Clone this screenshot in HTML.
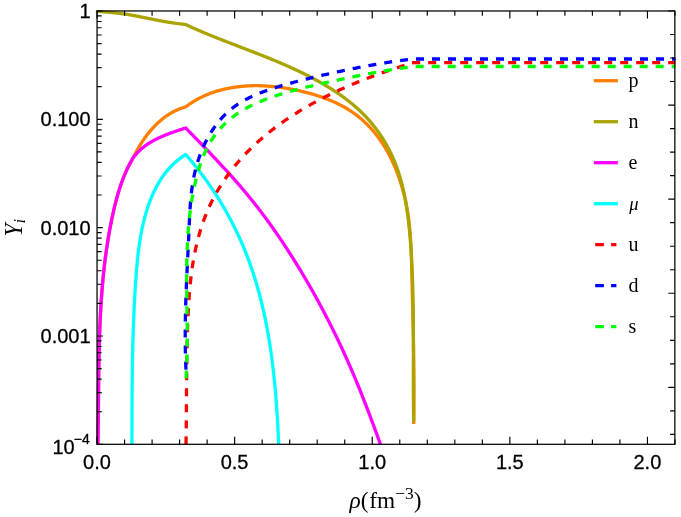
<!DOCTYPE html>
<html><head><meta charset="utf-8"><title>Particle fractions</title>
<style>
html,body{margin:0;padding:0;background:#fff;}
body{width:681px;height:517px;position:relative;overflow:hidden;font-family:"Liberation Sans",sans-serif;}
text{fill:#000;}
</style></head><body>
<svg width="681" height="517" viewBox="0 0 681 517" style="position:absolute;left:0;top:0;will-change:transform">
<defs><clipPath id="c"><rect x="95.55" y="9.97" width="579.9000000000001" height="434.83"/></clipPath></defs>
<g clip-path="url(#c)" fill="none" stroke-linejoin="round">
<path d="M97.90 444.40L97.92 443.41L97.94 442.42L97.96 441.43L97.98 440.44L97.99 439.45L98.01 438.46L98.03 437.47L98.05 436.47L98.06 435.48L98.08 434.49L98.09 433.50L98.11 432.51L98.12 431.51L98.14 430.52L98.15 429.53L98.16 428.53L98.18 427.54L98.19 426.54L98.20 425.55L98.21 424.55L98.23 423.56L98.24 422.56L98.25 421.57L98.26 420.57L98.27 419.58L98.28 418.58L98.29 417.59L98.30 416.59L98.31 415.59L98.32 414.60L98.33 413.60L98.34 412.60L98.35 411.60L98.36 410.61L98.37 409.61L98.38 408.61L98.39 407.61L98.40 406.61L98.41 405.61L98.42 404.61L98.42 403.62L98.43 402.62L98.44 401.62L98.45 400.62L98.46 399.62L98.47 398.62L98.48 397.62L98.49 396.62L98.49 395.62L98.50 394.62L98.51 393.62L98.52 392.62L98.53 391.61L98.54 390.61L98.55 389.61L98.56 388.61L98.57 387.61L98.58 386.61L98.59 385.61L98.60 384.61L98.61 383.60L98.62 382.60L98.63 381.60L98.64 380.60L98.65 379.59L98.66 378.59L98.67 377.59L98.69 376.59L98.70 375.58L98.71 374.58L98.72 373.58L98.74 372.58L98.75 371.57L98.76 370.57L98.78 369.57L98.79 368.56L98.81 367.56L98.82 366.56L98.84 365.55L98.85 364.55L98.87 363.55L98.89 362.54L98.90 361.54L98.92 360.54L98.94 359.53L98.96 358.53L98.98 357.53L99.00 356.52L99.02 355.52L99.04 354.51L99.06 353.51L99.08 352.51L99.10 351.50L99.13 350.50L99.15 349.50L99.17 348.49L99.20 347.49L99.22 346.48L99.25 345.48L99.28 344.48L99.30 343.47L99.33 342.47L99.36 341.46L99.39 340.46L99.42 339.46L99.45 338.45L99.48 337.45L99.52 336.45L99.55 335.44L99.58 334.44L99.62 333.44L99.65 332.43L99.69 331.43L99.73 330.43L99.76 329.42L99.80 328.42L99.84 327.42L99.88 326.41L99.92 325.41L99.96 324.41L100.01 323.40L100.05 322.40L100.10 321.40L100.14 320.40L100.19 319.39L100.24 318.39L100.28 317.39L100.33 316.39L100.38 315.39L100.44 314.38L100.49 313.38L100.54 312.38L100.60 311.38L100.65 310.38L100.71 309.37L100.77 308.37L100.83 307.37L100.89 306.37L100.95 305.37L101.01 304.37L101.07 303.37L101.14 302.37L101.20 301.37L101.27 300.37L101.34 299.37L101.41 298.37L101.48 297.37L101.55 296.37L101.62 295.37L101.69 294.37L101.77 293.37L101.85 292.37L101.92 291.37L102.00 290.37L102.08 289.38L102.16 288.38L102.25 287.38L102.33 286.38L102.42 285.38L102.50 284.39L102.59 283.39L102.68 282.39L102.77 281.40L102.86 280.40L102.96 279.40L103.05 278.41L103.15 277.41L103.25 276.42L103.35 275.42L103.45 274.43L103.55 273.43L103.66 272.44L103.76 271.44L103.87 270.45L103.98 269.45L104.09 268.46L104.20 267.47L104.31 266.47L104.43 265.48L104.54 264.49L104.66 263.49L104.78 262.50L104.90 261.51L105.02 260.52L105.15 259.53L105.28 258.54L105.40 257.54L105.53 256.55L105.66 255.56L105.80 254.57L105.93 253.58L106.07 252.59L106.21 251.61L106.35 250.62L106.49 249.63L106.63 248.64L106.78 247.65L106.92 246.67L107.07 245.68L107.22 244.69L107.37 243.70L107.53 242.72L107.68 241.73L107.84 240.75L108.00 239.76L108.16 238.78L108.33 237.79L108.49 236.81L108.66 235.82L108.83 234.84L109.00 233.86L109.17 232.88L109.35 231.89L109.53 230.91L109.71 229.93L109.89 228.95L110.07 227.97L110.26 226.99L110.44 226.01L110.63 225.03L110.82 224.05L111.02 223.07L111.21 222.09L111.41 221.11L111.61 220.13L111.81 219.16L112.02 218.18L112.22 217.20L112.43 216.23L112.64 215.25L112.86 214.28L113.07 213.30L113.29 212.33L113.51 211.35L113.73 210.38L113.95 209.41L114.18 208.43L114.41 207.46L114.64 206.49L114.88 205.52L115.11 204.55L115.35 203.58L115.60 202.61L115.85 201.65L116.10 200.68L116.35 199.72L116.61 198.75L116.87 197.79L117.13 196.83L117.40 195.87L117.67 194.91L117.95 193.95L118.23 192.99L118.51 192.04L118.80 191.08L119.10 190.13L119.40 189.18L119.70 188.23L120.01 187.28L120.32 186.33L120.64 185.39L120.96 184.45L121.29 183.51L121.62 182.57L121.96 181.63L122.30 180.70L122.65 179.76L123.01 178.83L123.37 177.90L123.74 176.98L124.11 176.05L124.49 175.13L124.87 174.21L125.27 173.29L125.66 172.38L126.07 171.46L126.48 170.55L126.90 169.65L127.32 168.74L127.76 167.84L128.20 166.94L128.64 166.04L129.10 165.15L129.56 164.26L130.03 163.37L130.50 162.48L130.99 161.60L131.48 160.72L131.98 159.84L132.48 158.97L133.00 158.10L133.43 157.21L133.87 156.32L134.32 155.43L134.78 154.53L135.24 153.65L135.70 152.76L136.18 151.87L136.66 150.99L137.15 150.10L137.64 149.22L138.14 148.35L138.65 147.47L139.17 146.60L139.69 145.73L140.22 144.86L140.76 144.00L141.30 143.14L141.85 142.28L142.41 141.43L142.98 140.59L143.55 139.74L144.13 138.91L144.71 138.07L145.31 137.25L145.91 136.42L146.52 135.61L147.13 134.80L147.75 133.99L148.38 133.19L149.02 132.40L149.67 131.61L150.32 130.84L150.98 130.06L151.64 129.30L152.32 128.54L153.00 127.79L153.69 127.05L154.39 126.32L155.09 125.60L155.80 124.88L156.52 124.17L157.25 123.47L157.99 122.79L158.73 122.11L159.48 121.44L160.24 120.78L161.00 120.13L161.78 119.49L162.56 118.86L163.35 118.24L164.15 117.63L164.95 117.04L165.77 116.45L166.59 115.88L167.42 115.32L168.25 114.77L169.10 114.23L169.95 113.71L170.81 113.19L171.68 112.69L172.56 112.21L173.44 111.74L174.34 111.28L175.24 110.83L176.15 110.40L177.07 109.98L177.99 109.58L178.93 109.19L179.87 108.82L180.82 108.46L181.78 108.12L182.75 107.79L183.72 107.48L184.71 107.18L185.70 106.90L186.50 106.28L187.32 105.68L188.13 105.08L188.96 104.50L189.79 103.92L190.62 103.36L191.46 102.80L192.31 102.26L193.16 101.73L194.01 101.20L194.88 100.69L195.74 100.18L196.61 99.69L197.49 99.21L198.37 98.73L199.26 98.27L200.15 97.81L201.05 97.37L201.94 96.93L202.85 96.50L203.76 96.08L204.67 95.68L205.58 95.28L206.50 94.89L207.43 94.51L208.35 94.13L209.28 93.77L210.22 93.42L211.15 93.07L212.09 92.74L213.04 92.41L213.98 92.09L214.93 91.78L215.88 91.48L216.83 91.18L217.79 90.90L218.75 90.62L219.71 90.36L220.67 90.10L221.64 89.84L222.60 89.60L223.57 89.36L224.54 89.14L225.51 88.92L226.49 88.71L227.46 88.50L228.44 88.30L229.41 88.12L230.39 87.93L231.37 87.76L232.35 87.60L233.33 87.44L234.31 87.29L235.29 87.14L236.28 87.00L237.26 86.88L238.24 86.75L239.22 86.64L240.21 86.53L241.19 86.43L242.17 86.33L243.16 86.25L244.14 86.16L245.13 86.09L246.11 86.02L247.10 85.96L248.08 85.91L249.07 85.86L250.05 85.82L251.04 85.79L252.03 85.76L253.01 85.74L254.00 85.72L254.99 85.71L255.98 85.71L256.97 85.71L257.95 85.72L258.94 85.73L259.93 85.76L260.92 85.78L261.91 85.82L262.90 85.85L263.89 85.90L264.89 85.95L265.88 86.00L266.87 86.07L267.86 86.13L268.85 86.21L269.85 86.28L270.84 86.37L271.83 86.46L272.83 86.55L273.82 86.65L274.81 86.75L275.81 86.86L276.80 86.98L277.80 87.10L278.79 87.22L279.79 87.35L280.79 87.49L281.78 87.62L282.78 87.77L283.78 87.92L284.77 88.07L285.77 88.23L286.77 88.39L287.77 88.56L288.77 88.73L289.77 88.91L290.77 89.09L291.77 89.27L292.77 89.46L293.77 89.65L294.77 89.85L295.77 90.05L296.77 90.26L297.77 90.47L298.77 90.68L299.77 90.90L300.77 91.13L301.76 91.36L302.76 91.59L303.76 91.83L304.75 92.07L305.75 92.32L306.74 92.58L307.74 92.83L308.73 93.10L309.72 93.37L310.71 93.64L311.69 93.92L312.68 94.20L313.66 94.49L314.65 94.78L315.63 95.08L316.60 95.39L317.58 95.70L318.55 96.01L319.52 96.33L320.49 96.66L321.46 96.99L322.42 97.33L323.38 97.68L324.34 98.02L325.29 98.38L326.25 98.74L327.19 99.11L328.14 99.48L329.08 99.86L330.02 100.24L330.96 100.63L331.89 101.03L332.81 101.43L333.74 101.84L334.66 102.26L335.57 102.68L336.48 103.11L337.39 103.54L338.29 103.98L339.19 104.43L340.09 104.89L340.98 105.35L341.86 105.81L342.74 106.29L343.61 106.77L344.48 107.25L345.35 107.75L346.21 108.25L347.06 108.76L347.91 109.27L348.75 109.79L349.59 110.32L350.42 110.86L351.25 111.40L352.07 111.95L352.88 112.51L353.69 113.07L354.49 113.64L355.28 114.22L356.07 114.81L356.85 115.40L357.63 116.01L358.40 116.61L359.16 117.23L359.92 117.85L360.67 118.48L361.41 119.12L362.15 119.76L362.88 120.41L363.61 121.07L364.33 121.73L365.04 122.40L365.74 123.08L366.44 123.76L367.14 124.45L367.83 125.14L368.51 125.84L369.18 126.55L369.85 127.27L370.52 127.99L371.17 128.71L371.83 129.44L372.47 130.18L373.11 130.93L373.74 131.67L374.37 132.43L374.99 133.19L375.61 133.96L376.22 134.73L376.82 135.50L377.42 136.29L378.01 137.07L378.59 137.87L379.17 138.66L379.75 139.47L380.32 140.27L380.88 141.09L381.43 141.90L381.98 142.72L382.53 143.55L383.07 144.38L383.60 145.22L384.13 146.06L384.65 146.90L385.17 147.75L385.68 148.61L386.18 149.47L386.68 150.33L387.17 151.19L387.66 152.06L388.14 152.94L388.62 153.82L389.09 154.70L389.55 155.58L390.01 156.47L390.47 157.37L390.91 158.26L391.36 159.16L391.79 160.07L392.23 160.98L392.65 161.89L393.07 162.80L393.49 163.72L393.90 164.64L394.30 165.56L394.70 166.49L395.10 167.41L395.48 168.35L395.87 169.28L396.24 170.22L396.62 171.16L396.98 172.10L397.35 173.05L397.70 173.99L398.05 174.94L398.40 175.90L398.74 176.85L399.07 177.81L399.40 178.77L399.73 179.73L400.05 180.69L400.36 181.66L400.67 182.62L400.98 183.59L401.28 184.56L401.57 185.53L401.86 186.51L402.14 187.48L402.42 188.46L402.70 189.44L402.97 190.42L403.23 191.40L403.49 192.38L403.74 193.36L403.99 194.34L404.24 195.33L404.47 196.31L404.71 197.30L404.94 198.29L405.16 199.28L405.38 200.27L405.60 201.26L405.81 202.25L406.01 203.24L406.21 204.23L406.41 205.22L406.60 206.21L406.78 207.20L406.96 208.19L407.14 209.19L407.31 210.18L407.48 211.17L407.64 212.16L407.80 213.15L407.95 214.15L408.10 215.14L408.24 216.13L408.39 217.12L408.52 218.12L408.65 219.11L408.78 220.10L408.91 221.09L409.03 222.09L409.15 223.08L409.26 224.07L409.37 225.06L409.48 226.06L409.58 227.05L409.68 228.04L409.77 229.04L409.87 230.03L409.96 231.02L410.04 232.02L410.13 233.01L410.21 234.00L410.28 235.00L410.36 235.99L410.43 236.98L410.50 237.98L410.57 238.97L410.63 239.97L410.69 240.96L410.75 241.95L410.81 242.95L410.87 243.94L410.92 244.94L410.97 245.93L411.02 246.93L411.07 247.92L411.11 248.92L411.15 249.91L411.20 250.91L411.24 251.90L411.27 252.90L411.31 253.89L411.35 254.89L411.38 255.88L411.41 256.88L411.45 257.87L411.48 258.87L411.51 259.87L411.53 260.86L411.56 261.86L411.59 262.86L411.61 263.85L411.64 264.85L411.66 265.84L411.69 266.84L411.71 267.84L411.73 268.84L411.76 269.83L411.78 270.83L411.80 271.83L411.82 272.83L411.85 273.82L411.87 274.82L411.89 275.82L411.91 276.82L411.94 277.82L411.96 278.81L411.98 279.81L412.00 280.81L412.03 281.81L412.05 282.81L412.07 283.81L412.10 284.81L412.12 285.81L412.15 286.81L412.17 287.81L412.19 288.80L412.22 289.80L412.24 290.80L412.27 291.80L412.29 292.80L412.32 293.80L412.34 294.81L412.37 295.81L412.39 296.81L412.42 297.81L412.44 298.81L412.46 299.81L412.49 300.81L412.51 301.81L412.54 302.81L412.56 303.81L412.59 304.81L412.61 305.81L412.64 306.82L412.66 307.82L412.69 308.82L412.71 309.82L412.74 310.82L412.76 311.82L412.79 312.83L412.81 313.83L412.84 314.83L412.86 315.83L412.89 316.83L412.91 317.84L412.94 318.84L412.96 319.84L412.98 320.84L413.01 321.85L413.03 322.85L413.06 323.85L413.08 324.85L413.10 325.86L413.13 326.86L413.15 327.86L413.17 328.86L413.19 329.87L413.22 330.87L413.24 331.87L413.26 332.87L413.28 333.88L413.31 334.88L413.33 335.88L413.35 336.89L413.37 337.89L413.39 338.89L413.41 339.89L413.43 340.90L413.45 341.90L413.47 342.90L413.49 343.91L413.51 344.91L413.53 345.91L413.55 346.92L413.57 347.92L413.59 348.92L413.61 349.92L413.63 350.93L413.64 351.93L413.66 352.93L413.68 353.94L413.70 354.94L413.71 355.94L413.73 356.94L413.74 357.95L413.76 358.95L413.77 359.95L413.79 360.96L413.80 361.96L413.82 362.96L413.83 363.96L413.84 364.97L413.86 365.97L413.87 366.97L413.88 367.98L413.89 368.98L413.90 369.98L413.91 370.98L413.93 371.99L413.93 372.99L413.94 373.99L413.95 374.99L413.96 375.99L413.97 377.00L413.98 378.00L413.98 379.00L413.99 380.00L414.00 381.00L414.00 382.01L414.01 383.01L414.01 384.01L414.02 385.01L414.02 386.01L414.02 387.01L414.03 388.02L414.03 389.02L414.03 390.02L414.03 391.02L414.03 392.02L414.03 393.02L414.03 394.02L414.03 395.02L414.02 396.02L414.02 397.03L414.02 398.03L414.01 399.03L414.01 400.03L414.00 401.03L414.00 402.03L413.99 403.03L413.99 404.03L413.98 405.03L413.97 406.03L413.96 407.03L413.95 408.03L413.94 409.02L413.93 410.02L413.92 411.02L413.91 412.02L413.89 413.02L413.88 414.02L413.86 415.02L413.85 416.02L413.83 417.02L413.82 418.01L413.80 419.01L413.78 420.01L413.76 421.01L413.74 422.01L413.72 423.00L413.70 424.00" stroke="#ff8000" stroke-width="3.3"/>
<path d="M95.70 11.25L96.70 11.33L97.70 11.41L98.69 11.49L99.69 11.57L100.69 11.65L101.69 11.73L102.69 11.81L103.68 11.89L104.68 11.97L105.68 12.05L106.68 12.13L107.68 12.22L108.68 12.30L109.67 12.39L110.67 12.48L111.67 12.57L112.67 12.66L113.66 12.76L114.66 12.86L115.65 12.96L116.65 13.06L117.64 13.17L118.64 13.28L119.63 13.40L120.62 13.52L121.62 13.64L122.61 13.77L123.60 13.91L124.59 14.05L125.58 14.19L126.57 14.34L127.55 14.49L128.54 14.65L129.53 14.81L130.51 14.98L131.50 15.15L132.48 15.33L133.46 15.50L134.45 15.68L135.43 15.87L136.41 16.05L137.40 16.24L138.38 16.43L139.36 16.62L140.34 16.81L141.32 17.01L142.30 17.20L143.29 17.40L144.27 17.60L145.25 17.80L146.23 18.00L147.21 18.19L148.19 18.39L149.17 18.59L150.15 18.79L151.13 18.99L152.11 19.18L153.10 19.38L154.08 19.58L155.06 19.77L156.04 19.96L157.02 20.16L158.01 20.35L158.99 20.53L159.97 20.72L160.95 20.90L161.94 21.09L162.92 21.27L163.91 21.44L164.89 21.62L165.88 21.79L166.87 21.95L167.85 22.12L168.84 22.28L169.83 22.43L170.82 22.59L171.81 22.74L172.80 22.89L173.79 23.03L174.78 23.17L175.77 23.31L176.76 23.45L177.75 23.58L178.75 23.72L179.74 23.85L180.73 23.98L181.73 24.11L182.72 24.23L183.71 24.36L184.71 24.48L185.70 24.60L186.61 25.02L187.51 25.44L188.42 25.85L189.33 26.27L190.24 26.68L191.15 27.09L192.07 27.50L192.98 27.90L193.89 28.31L194.81 28.71L195.72 29.11L196.64 29.51L197.55 29.91L198.47 30.30L199.39 30.70L200.31 31.09L201.23 31.48L202.15 31.87L203.07 32.26L203.99 32.65L204.91 33.03L205.83 33.41L206.76 33.80L207.68 34.18L208.60 34.56L209.53 34.94L210.46 35.31L211.38 35.69L212.31 36.06L213.23 36.44L214.16 36.81L215.09 37.18L216.02 37.55L216.95 37.92L217.88 38.29L218.80 38.66L219.73 39.03L220.66 39.40L221.60 39.76L222.53 40.13L223.46 40.49L224.39 40.86L225.32 41.22L226.25 41.58L227.18 41.94L228.12 42.30L229.05 42.67L229.98 43.03L230.92 43.39L231.85 43.75L232.78 44.11L233.72 44.47L234.65 44.83L235.58 45.18L236.52 45.54L237.45 45.90L238.39 46.26L239.32 46.62L240.26 46.98L241.19 47.34L242.12 47.69L243.06 48.05L243.99 48.41L244.93 48.77L245.86 49.13L246.80 49.49L247.73 49.85L248.66 50.21L249.60 50.57L250.53 50.93L251.46 51.29L252.40 51.65L253.33 52.01L254.26 52.38L255.20 52.74L256.13 53.10L257.06 53.47L258.00 53.83L258.93 54.20L259.86 54.56L260.79 54.93L261.72 55.30L262.65 55.67L263.58 56.04L264.51 56.41L265.44 56.78L266.37 57.15L267.30 57.52L268.23 57.90L269.16 58.27L270.09 58.65L271.01 59.03L271.94 59.41L272.87 59.79L273.79 60.17L274.72 60.55L275.64 60.94L276.57 61.32L277.49 61.71L278.41 62.10L279.34 62.49L280.26 62.88L281.18 63.27L282.10 63.67L283.02 64.06L283.94 64.46L284.86 64.86L285.78 65.26L286.69 65.67L287.61 66.07L288.53 66.48L289.44 66.89L290.36 67.30L291.27 67.71L292.18 68.13L293.10 68.54L294.01 68.96L294.92 69.38L295.83 69.81L296.73 70.23L297.64 70.66L298.55 71.09L299.46 71.52L300.36 71.96L301.26 72.39L302.17 72.83L303.07 73.28L303.97 73.72L304.87 74.17L305.77 74.62L306.67 75.07L307.56 75.52L308.46 75.98L309.35 76.44L310.25 76.90L311.14 77.37L312.03 77.84L312.92 78.31L313.81 78.78L314.70 79.26L315.59 79.74L316.47 80.22L317.36 80.71L318.24 81.20L319.12 81.69L320.00 82.18L320.88 82.68L321.75 83.18L322.63 83.69L323.50 84.19L324.37 84.70L325.24 85.22L326.11 85.74L326.98 86.26L327.84 86.78L328.70 87.31L329.56 87.84L330.42 88.37L331.27 88.91L332.12 89.45L332.97 90.00L333.82 90.55L334.66 91.10L335.50 91.65L336.34 92.21L337.18 92.78L338.01 93.34L338.84 93.91L339.67 94.49L340.49 95.07L341.31 95.65L342.13 96.23L342.95 96.82L343.76 97.42L344.57 98.01L345.37 98.62L346.17 99.22L346.97 99.83L347.76 100.44L348.55 101.06L349.34 101.68L350.12 102.31L350.90 102.94L351.67 103.57L352.45 104.21L353.21 104.85L353.98 105.50L354.73 106.15L355.49 106.81L356.24 107.47L356.98 108.13L357.72 108.80L358.46 109.47L359.19 110.15L359.92 110.83L360.64 111.52L361.36 112.21L362.07 112.91L362.78 113.61L363.48 114.31L364.18 115.02L364.88 115.74L365.56 116.46L366.25 117.18L366.92 117.91L367.60 118.65L368.26 119.38L368.92 120.13L369.58 120.88L370.23 121.63L370.88 122.38L371.52 123.15L372.15 123.91L372.78 124.68L373.40 125.46L374.02 126.24L374.63 127.02L375.24 127.81L375.84 128.60L376.44 129.39L377.03 130.19L377.62 131.00L378.19 131.80L378.77 132.62L379.34 133.43L379.90 134.25L380.46 135.07L381.01 135.90L381.55 136.73L382.09 137.57L382.63 138.40L383.15 139.25L383.68 140.09L384.19 140.94L384.70 141.79L385.21 142.65L385.71 143.51L386.20 144.37L386.69 145.23L387.17 146.10L387.64 146.97L388.11 147.85L388.58 148.73L389.04 149.61L389.49 150.49L389.93 151.38L390.37 152.27L390.81 153.16L391.23 154.05L391.65 154.95L392.07 155.85L392.48 156.76L392.88 157.66L393.28 158.57L393.67 159.48L394.05 160.40L394.43 161.31L394.80 162.23L395.17 163.15L395.53 164.07L395.89 165.00L396.24 165.93L396.58 166.86L396.92 167.79L397.25 168.72L397.58 169.66L397.90 170.60L398.21 171.54L398.53 172.48L398.83 173.43L399.13 174.38L399.43 175.33L399.72 176.28L400.00 177.23L400.28 178.18L400.56 179.14L400.83 180.10L401.09 181.06L401.35 182.02L401.61 182.98L401.86 183.95L402.11 184.92L402.35 185.89L402.59 186.86L402.82 187.83L403.05 188.80L403.27 189.78L403.49 190.75L403.71 191.73L403.92 192.71L404.13 193.69L404.33 194.67L404.53 195.65L404.73 196.64L404.92 197.62L405.11 198.61L405.30 199.60L405.48 200.58L405.65 201.57L405.83 202.57L406.00 203.56L406.16 204.55L406.33 205.54L406.49 206.54L406.64 207.54L406.80 208.53L406.95 209.53L407.10 210.53L407.24 211.53L407.38 212.53L407.52 213.53L407.65 214.53L407.79 215.53L407.92 216.53L408.04 217.53L408.17 218.54L408.29 219.54L408.41 220.55L408.52 221.55L408.64 222.56L408.75 223.56L408.86 224.57L408.97 225.57L409.07 226.58L409.17 227.59L409.27 228.59L409.37 229.60L409.47 230.61L409.56 231.61L409.66 232.62L409.75 233.63L409.84 234.64L409.92 235.64L410.01 236.65L410.09 237.66L410.18 238.67L410.26 239.67L410.34 240.68L410.41 241.69L410.49 242.69L410.57 243.70L410.64 244.70L410.71 245.71L410.79 246.71L410.86 247.72L410.93 248.72L410.99 249.73L411.06 250.73L411.13 251.74L411.19 252.74L411.25 253.74L411.32 254.75L411.38 255.75L411.44 256.75L411.49 257.76L411.55 258.76L411.61 259.76L411.66 260.76L411.72 261.76L411.77 262.77L411.82 263.77L411.87 264.77L411.92 265.77L411.97 266.77L412.02 267.77L412.06 268.77L412.11 269.77L412.15 270.77L412.20 271.77L412.24 272.77L412.28 273.77L412.32 274.77L412.36 275.77L412.40 276.77L412.44 277.77L412.47 278.77L412.51 279.77L412.54 280.77L412.58 281.77L412.61 282.77L412.64 283.76L412.67 284.76L412.71 285.76L412.74 286.76L412.76 287.76L412.79 288.75L412.82 289.75L412.85 290.75L412.87 291.75L412.90 292.74L412.92 293.74L412.94 294.74L412.97 295.74L412.99 296.73L413.01 297.73L413.03 298.73L413.05 299.72L413.07 300.72L413.09 301.72L413.11 302.71L413.12 303.71L413.14 304.71L413.15 305.70L413.17 306.70L413.18 307.69L413.20 308.69L413.21 309.69L413.23 310.68L413.24 311.68L413.25 312.68L413.26 313.67L413.27 314.67L413.28 315.66L413.29 316.66L413.30 317.66L413.31 318.65L413.32 319.65L413.33 320.64L413.33 321.64L413.34 322.63L413.35 323.63L413.35 324.63L413.36 325.62L413.36 326.62L413.37 327.61L413.37 328.61L413.38 329.60L413.38 330.60L413.38 331.60L413.39 332.59L413.39 333.59L413.39 334.58L413.40 335.58L413.40 336.58L413.40 337.57L413.40 338.57L413.40 339.56L413.40 340.56L413.40 341.56L413.40 342.55L413.40 343.55L413.40 344.55L413.40 345.54L413.40 346.54L413.40 347.54L413.40 348.53L413.40 349.53L413.40 350.53L413.40 351.52L413.40 352.52L413.40 353.52L413.40 354.51L413.40 355.51L413.39 356.51L413.39 357.51L413.39 358.50L413.39 359.50L413.39 360.50L413.39 361.50L413.38 362.50L413.38 363.49L413.38 364.49L413.38 365.49L413.38 366.49L413.38 367.49L413.38 368.49L413.38 369.49L413.37 370.49L413.37 371.48L413.37 372.48L413.37 373.48L413.37 374.48L413.37 375.48L413.37 376.48L413.37 377.48L413.37 378.48L413.37 379.48L413.37 380.48L413.37 381.49L413.37 382.49L413.37 383.49L413.37 384.49L413.38 385.49L413.38 386.49L413.38 387.49L413.38 388.50L413.39 389.50L413.39 390.50L413.39 391.50L413.40 392.51L413.40 393.51L413.40 394.51L413.41 395.52L413.41 396.52L413.42 397.53L413.43 398.53L413.43 399.53L413.44 400.54L413.45 401.54L413.45 402.55L413.46 403.56L413.47 404.56L413.48 405.57L413.49 406.57L413.50 407.58L413.51 408.59L413.52 409.59L413.53 410.60L413.55 411.61L413.56 412.62L413.57 413.62L413.59 414.63L413.60 415.64L413.62 416.65L413.63 417.66L413.65 418.67L413.66 419.68L413.68 420.69L413.70 421.70" stroke="#a9a400" stroke-width="3.3"/>
<path d="M97.90 444.40L97.92 443.41L97.94 442.42L97.96 441.43L97.98 440.44L97.99 439.45L98.01 438.46L98.03 437.47L98.05 436.47L98.06 435.48L98.08 434.49L98.09 433.50L98.11 432.51L98.12 431.51L98.14 430.52L98.15 429.53L98.16 428.53L98.18 427.54L98.19 426.54L98.20 425.55L98.21 424.55L98.23 423.56L98.24 422.56L98.25 421.57L98.26 420.57L98.27 419.58L98.28 418.58L98.29 417.59L98.30 416.59L98.31 415.59L98.32 414.60L98.33 413.60L98.34 412.60L98.35 411.60L98.36 410.61L98.37 409.61L98.38 408.61L98.39 407.61L98.40 406.61L98.41 405.61L98.42 404.61L98.42 403.62L98.43 402.62L98.44 401.62L98.45 400.62L98.46 399.62L98.47 398.62L98.48 397.62L98.49 396.62L98.49 395.62L98.50 394.62L98.51 393.62L98.52 392.62L98.53 391.61L98.54 390.61L98.55 389.61L98.56 388.61L98.57 387.61L98.58 386.61L98.59 385.61L98.60 384.61L98.61 383.60L98.62 382.60L98.63 381.60L98.64 380.60L98.65 379.59L98.66 378.59L98.67 377.59L98.69 376.59L98.70 375.58L98.71 374.58L98.72 373.58L98.74 372.58L98.75 371.57L98.76 370.57L98.78 369.57L98.79 368.56L98.81 367.56L98.82 366.56L98.84 365.55L98.85 364.55L98.87 363.55L98.89 362.54L98.90 361.54L98.92 360.54L98.94 359.53L98.96 358.53L98.98 357.53L99.00 356.52L99.02 355.52L99.04 354.51L99.06 353.51L99.08 352.51L99.10 351.50L99.13 350.50L99.15 349.50L99.17 348.49L99.20 347.49L99.22 346.48L99.25 345.48L99.28 344.48L99.30 343.47L99.33 342.47L99.36 341.46L99.39 340.46L99.42 339.46L99.45 338.45L99.48 337.45L99.52 336.45L99.55 335.44L99.58 334.44L99.62 333.44L99.65 332.43L99.69 331.43L99.73 330.43L99.76 329.42L99.80 328.42L99.84 327.42L99.88 326.41L99.92 325.41L99.96 324.41L100.01 323.40L100.05 322.40L100.10 321.40L100.14 320.40L100.19 319.39L100.24 318.39L100.28 317.39L100.33 316.39L100.38 315.39L100.44 314.38L100.49 313.38L100.54 312.38L100.60 311.38L100.65 310.38L100.71 309.37L100.77 308.37L100.83 307.37L100.89 306.37L100.95 305.37L101.01 304.37L101.07 303.37L101.14 302.37L101.20 301.37L101.27 300.37L101.34 299.37L101.41 298.37L101.48 297.37L101.55 296.37L101.62 295.37L101.69 294.37L101.77 293.37L101.85 292.37L101.92 291.37L102.00 290.37L102.08 289.38L102.16 288.38L102.25 287.38L102.33 286.38L102.42 285.38L102.50 284.39L102.59 283.39L102.68 282.39L102.77 281.40L102.86 280.40L102.96 279.40L103.05 278.41L103.15 277.41L103.25 276.42L103.35 275.42L103.45 274.43L103.55 273.43L103.66 272.44L103.76 271.44L103.87 270.45L103.98 269.45L104.09 268.46L104.20 267.47L104.31 266.47L104.43 265.48L104.54 264.49L104.66 263.49L104.78 262.50L104.90 261.51L105.02 260.52L105.15 259.53L105.28 258.54L105.40 257.54L105.53 256.55L105.66 255.56L105.80 254.57L105.93 253.58L106.07 252.59L106.21 251.61L106.35 250.62L106.49 249.63L106.63 248.64L106.78 247.65L106.92 246.67L107.07 245.68L107.22 244.69L107.37 243.70L107.53 242.72L107.68 241.73L107.84 240.75L108.00 239.76L108.16 238.78L108.33 237.79L108.49 236.81L108.66 235.82L108.83 234.84L109.00 233.86L109.17 232.88L109.35 231.89L109.53 230.91L109.71 229.93L109.89 228.95L110.07 227.97L110.26 226.99L110.44 226.01L110.63 225.03L110.82 224.05L111.02 223.07L111.21 222.09L111.41 221.11L111.61 220.13L111.81 219.16L112.02 218.18L112.22 217.20L112.43 216.23L112.64 215.25L112.86 214.28L113.07 213.30L113.29 212.33L113.51 211.35L113.73 210.38L113.95 209.41L114.18 208.43L114.41 207.46L114.64 206.49L114.88 205.52L115.11 204.55L115.35 203.58L115.60 202.61L115.85 201.65L116.10 200.68L116.35 199.72L116.61 198.75L116.87 197.79L117.13 196.83L117.40 195.87L117.67 194.91L117.95 193.95L118.23 192.99L118.51 192.04L118.80 191.08L119.10 190.13L119.40 189.18L119.70 188.23L120.01 187.28L120.32 186.33L120.64 185.39L120.96 184.45L121.29 183.51L121.62 182.57L121.96 181.63L122.30 180.70L122.65 179.76L123.01 178.83L123.37 177.90L123.74 176.98L124.11 176.05L124.49 175.13L124.87 174.21L125.27 173.29L125.66 172.38L126.07 171.46L126.48 170.55L126.90 169.65L127.32 168.74L127.76 167.84L128.20 166.94L128.64 166.04L129.10 165.15L129.56 164.26L130.03 163.37L130.50 162.48L130.99 161.60L131.48 160.72L131.98 159.84L132.48 158.97L133.00 158.10L133.60 157.26L134.22 156.44L134.85 155.64L135.49 154.85L136.15 154.08L136.82 153.32L137.51 152.58L138.21 151.86L138.92 151.14L139.64 150.45L140.38 149.77L141.13 149.10L141.89 148.44L142.66 147.80L143.44 147.17L144.23 146.56L145.03 145.95L145.85 145.36L146.67 144.79L147.50 144.22L148.34 143.66L149.19 143.12L150.04 142.59L150.91 142.07L151.78 141.56L152.66 141.06L153.55 140.57L154.44 140.08L155.34 139.61L156.25 139.15L157.16 138.70L158.08 138.25L159.00 137.82L159.93 137.39L160.87 136.97L161.80 136.56L162.74 136.16L163.69 135.76L164.64 135.37L165.59 134.98L166.54 134.61L167.50 134.24L168.45 133.87L169.41 133.51L170.38 133.16L171.34 132.81L172.30 132.46L173.27 132.12L174.23 131.79L175.19 131.46L176.16 131.13L177.12 130.80L178.08 130.48L179.04 130.17L180.00 129.85L180.96 129.54L181.91 129.23L182.86 128.92L183.81 128.61L184.76 128.30L185.70 128.00L186.40 128.72L187.10 129.43L187.80 130.15L188.50 130.86L189.20 131.58L189.90 132.29L190.60 133.01L191.30 133.73L191.99 134.44L192.69 135.16L193.39 135.88L194.09 136.59L194.79 137.31L195.49 138.03L196.19 138.74L196.89 139.46L197.58 140.18L198.28 140.90L198.98 141.62L199.67 142.34L200.37 143.05L201.07 143.77L201.76 144.49L202.46 145.21L203.16 145.93L203.85 146.65L204.55 147.38L205.24 148.10L205.93 148.82L206.63 149.54L207.32 150.26L208.01 150.99L208.70 151.71L209.40 152.43L210.09 153.16L210.78 153.88L211.47 154.61L212.16 155.33L212.85 156.06L213.53 156.79L214.22 157.52L214.91 158.24L215.59 158.97L216.28 159.70L216.97 160.43L217.65 161.16L218.33 161.89L219.02 162.62L219.70 163.36L220.38 164.09L221.06 164.82L221.74 165.56L222.42 166.29L223.10 167.03L223.78 167.76L224.45 168.50L225.13 169.24L225.80 169.98L226.48 170.72L227.15 171.46L227.82 172.20L228.50 172.94L229.17 173.68L229.84 174.42L230.50 175.17L231.17 175.91L231.84 176.66L232.50 177.40L233.17 178.15L233.83 178.90L234.49 179.65L235.16 180.40L235.82 181.15L236.47 181.90L237.13 182.66L237.79 183.41L238.44 184.16L239.10 184.92L239.75 185.68L240.40 186.44L241.05 187.19L241.70 187.95L242.35 188.72L243.00 189.48L243.65 190.24L244.29 191.00L244.93 191.77L245.57 192.54L246.21 193.30L246.85 194.07L247.49 194.84L248.13 195.61L248.76 196.39L249.40 197.16L250.03 197.93L250.66 198.71L251.29 199.49L251.91 200.27L252.54 201.04L253.17 201.83L253.79 202.61L254.41 203.39L255.03 204.17L255.65 204.96L256.27 205.75L256.88 206.54L257.50 207.32L258.11 208.11L258.72 208.91L259.33 209.70L259.94 210.49L260.54 211.29L261.15 212.08L261.75 212.88L262.36 213.68L262.96 214.48L263.56 215.28L264.16 216.08L264.75 216.88L265.35 217.69L265.94 218.49L266.54 219.30L267.13 220.10L267.72 220.91L268.31 221.72L268.89 222.53L269.48 223.34L270.06 224.16L270.65 224.97L271.23 225.78L271.81 226.60L272.39 227.41L272.97 228.23L273.54 229.05L274.12 229.87L274.69 230.69L275.27 231.51L275.84 232.33L276.41 233.15L276.98 233.98L277.55 234.80L278.11 235.63L278.68 236.45L279.24 237.28L279.80 238.11L280.36 238.94L280.92 239.77L281.48 240.60L282.04 241.43L282.60 242.27L283.15 243.10L283.71 243.93L284.26 244.77L284.81 245.60L285.36 246.44L285.91 247.28L286.46 248.12L287.00 248.96L287.55 249.80L288.09 250.64L288.64 251.48L289.18 252.32L289.72 253.16L290.26 254.01L290.80 254.85L291.33 255.70L291.87 256.54L292.40 257.39L292.94 258.24L293.47 259.09L294.00 259.94L294.53 260.79L295.06 261.64L295.59 262.49L296.12 263.34L296.64 264.19L297.17 265.04L297.69 265.90L298.21 266.75L298.74 267.61L299.26 268.46L299.78 269.32L300.30 270.17L300.81 271.03L301.33 271.89L301.84 272.75L302.36 273.61L302.87 274.47L303.38 275.33L303.89 276.19L304.40 277.05L304.91 277.91L305.42 278.77L305.93 279.63L306.43 280.50L306.94 281.36L307.44 282.23L307.94 283.09L308.45 283.96L308.95 284.83L309.44 285.69L309.94 286.56L310.44 287.43L310.94 288.30L311.43 289.17L311.92 290.04L312.42 290.91L312.91 291.78L313.40 292.65L313.89 293.53L314.38 294.40L314.86 295.27L315.35 296.15L315.84 297.02L316.32 297.90L316.80 298.77L317.29 299.65L317.77 300.53L318.25 301.40L318.72 302.28L319.20 303.16L319.68 304.04L320.15 304.92L320.63 305.80L321.10 306.68L321.57 307.56L322.05 308.45L322.52 309.33L322.98 310.21L323.45 311.10L323.92 311.98L324.38 312.87L324.85 313.75L325.31 314.64L325.77 315.53L326.24 316.41L326.70 317.30L327.15 318.19L327.61 319.08L328.07 319.97L328.53 320.86L328.98 321.75L329.43 322.64L329.89 323.53L330.34 324.43L330.79 325.32L331.24 326.21L331.68 327.11L332.13 328.00L332.58 328.90L333.02 329.79L333.47 330.69L333.91 331.59L334.35 332.49L334.79 333.38L335.23 334.28L335.67 335.18L336.10 336.08L336.54 336.98L336.97 337.88L337.41 338.78L337.84 339.69L338.27 340.59L338.70 341.49L339.13 342.39L339.56 343.30L339.98 344.20L340.41 345.11L340.84 346.02L341.26 346.92L341.68 347.83L342.10 348.74L342.52 349.64L342.94 350.55L343.36 351.46L343.78 352.37L344.19 353.28L344.61 354.19L345.02 355.10L345.43 356.02L345.84 356.93L346.25 357.84L346.66 358.75L347.07 359.67L347.48 360.58L347.88 361.50L348.29 362.41L348.69 363.33L349.09 364.25L349.49 365.16L349.89 366.08L350.29 367.00L350.69 367.92L351.09 368.84L351.48 369.76L351.88 370.68L352.27 371.60L352.66 372.52L353.05 373.44L353.44 374.36L353.83 375.28L354.22 376.21L354.61 377.13L355.00 378.05L355.38 378.98L355.77 379.90L356.15 380.83L356.53 381.75L356.91 382.68L357.30 383.60L357.68 384.53L358.05 385.46L358.43 386.39L358.81 387.31L359.19 388.24L359.56 389.17L359.94 390.10L360.31 391.03L360.68 391.96L361.06 392.89L361.43 393.82L361.80 394.75L362.17 395.68L362.54 396.61L362.90 397.54L363.27 398.47L363.64 399.41L364.00 400.34L364.37 401.27L364.73 402.21L365.10 403.14L365.46 404.07L365.82 405.01L366.18 405.94L366.54 406.87L366.90 407.81L367.26 408.74L367.62 409.68L367.98 410.61L368.34 411.55L368.69 412.49L369.05 413.42L369.41 414.36L369.76 415.30L370.12 416.23L370.47 417.17L370.82 418.11L371.17 419.04L371.53 419.98L371.88 420.92L372.23 421.86L372.58 422.79L372.93 423.73L373.28 424.67L373.63 425.61L373.97 426.55L374.32 427.49L374.67 428.43L375.01 429.36L375.36 430.30L375.71 431.24L376.05 432.18L376.40 433.12L376.74 434.06L377.08 435.00L377.43 435.94L377.77 436.88L378.11 437.82L378.46 438.76L378.80 439.70L379.14 440.64L379.48 441.58L379.82 442.52L380.16 443.46L380.50 444.40" stroke="#ff00ff" stroke-width="3.3"/>
<path d="M131.90 444.40L131.90 443.39L131.91 442.37L131.91 441.36L131.92 440.34L131.92 439.33L131.92 438.32L131.93 437.30L131.93 436.29L131.93 435.28L131.94 434.27L131.94 433.26L131.95 432.24L131.95 431.23L131.95 430.22L131.96 429.21L131.96 428.20L131.96 427.19L131.97 426.19L131.97 425.18L131.97 424.17L131.98 423.16L131.98 422.15L131.98 421.14L131.99 420.14L131.99 419.13L131.99 418.12L132.00 417.12L132.00 416.11L132.01 415.11L132.01 414.10L132.01 413.10L132.02 412.09L132.02 411.09L132.03 410.08L132.03 409.08L132.03 408.07L132.04 407.07L132.04 406.07L132.05 405.06L132.05 404.06L132.06 403.06L132.06 402.05L132.07 401.05L132.08 400.05L132.08 399.05L132.09 398.05L132.09 397.04L132.10 396.04L132.11 395.04L132.11 394.04L132.12 393.04L132.13 392.04L132.13 391.04L132.14 390.04L132.15 389.04L132.16 388.04L132.17 387.04L132.18 386.04L132.18 385.04L132.19 384.04L132.20 383.04L132.21 382.04L132.22 381.04L132.23 380.04L132.24 379.05L132.25 378.05L132.26 377.05L132.28 376.05L132.29 375.05L132.30 374.05L132.31 373.06L132.33 372.06L132.34 371.06L132.35 370.06L132.37 369.07L132.38 368.07L132.39 367.07L132.41 366.07L132.42 365.08L132.44 364.08L132.46 363.08L132.47 362.09L132.49 361.09L132.51 360.09L132.53 359.10L132.54 358.10L132.56 357.10L132.58 356.11L132.60 355.11L132.62 354.11L132.64 353.12L132.66 352.12L132.68 351.12L132.70 350.13L132.73 349.13L132.75 348.13L132.77 347.14L132.80 346.14L132.82 345.14L132.85 344.15L132.87 343.15L132.90 342.15L132.92 341.16L132.95 340.16L132.98 339.16L133.01 338.17L133.03 337.17L133.06 336.17L133.09 335.18L133.12 334.18L133.15 333.18L133.19 332.19L133.22 331.19L133.25 330.19L133.28 329.19L133.32 328.20L133.35 327.20L133.39 326.20L133.42 325.21L133.46 324.21L133.50 323.21L133.53 322.21L133.57 321.21L133.61 320.22L133.65 319.22L133.69 318.22L133.73 317.22L133.77 316.22L133.82 315.23L133.86 314.23L133.90 313.23L133.95 312.23L133.99 311.23L134.04 310.23L134.09 309.23L134.13 308.23L134.18 307.23L134.23 306.23L134.28 305.23L134.33 304.23L134.38 303.23L134.43 302.23L134.49 301.23L134.54 300.23L134.59 299.23L134.65 298.23L134.71 297.23L134.76 296.22L134.82 295.22L134.88 294.22L134.94 293.22L135.00 292.22L135.06 291.21L135.12 290.21L135.18 289.21L135.25 288.20L135.31 287.20L135.38 286.20L135.44 285.19L135.51 284.19L135.58 283.18L135.65 282.18L135.72 281.17L135.79 280.17L135.86 279.16L135.93 278.16L136.00 277.15L136.08 276.14L136.16 275.14L136.23 274.13L136.31 273.12L136.39 272.12L136.47 271.11L136.55 270.10L136.64 269.09L136.72 268.09L136.81 267.08L136.90 266.07L136.99 265.07L137.08 264.06L137.17 263.05L137.27 262.05L137.37 261.04L137.47 260.03L137.57 259.03L137.68 258.02L137.78 257.02L137.89 256.01L138.00 255.01L138.12 254.00L138.24 253.00L138.36 252.00L138.48 250.99L138.60 249.99L138.73 248.99L138.86 247.99L139.00 246.99L139.13 245.99L139.27 244.99L139.42 243.99L139.56 243.00L139.71 242.00L139.87 241.00L140.02 240.01L140.18 239.01L140.35 238.02L140.52 237.03L140.69 236.04L140.86 235.05L141.04 234.06L141.22 233.07L141.41 232.08L141.60 231.09L141.80 230.11L142.00 229.12L142.20 228.14L142.41 227.16L142.62 226.18L142.84 225.20L143.06 224.22L143.28 223.24L143.52 222.27L143.75 221.29L143.99 220.32L144.24 219.35L144.49 218.38L144.74 217.41L145.00 216.44L145.27 215.48L145.54 214.52L145.81 213.55L146.09 212.59L146.38 211.63L146.67 210.68L146.97 209.72L147.27 208.77L147.58 207.82L147.89 206.87L148.22 205.92L148.54 204.98L148.87 204.03L149.21 203.09L149.56 202.16L149.91 201.22L150.27 200.29L150.63 199.36L151.00 198.44L151.38 197.52L151.76 196.60L152.15 195.68L152.55 194.77L152.95 193.86L153.37 192.96L153.79 192.06L154.21 191.16L154.64 190.27L155.09 189.38L155.53 188.50L155.99 187.62L156.45 186.75L156.92 185.88L157.40 185.01L157.89 184.15L158.39 183.30L158.89 182.45L159.40 181.60L159.92 180.77L160.45 179.93L160.98 179.10L161.53 178.28L162.08 177.46L162.64 176.65L163.21 175.85L163.79 175.05L164.38 174.26L164.98 173.47L165.59 172.69L166.20 171.92L166.83 171.15L167.46 170.39L168.10 169.64L168.76 168.90L169.42 168.16L170.09 167.43L170.77 166.70L171.47 165.99L172.17 165.28L172.88 164.58L173.60 163.88L174.33 163.20L175.08 162.52L175.83 161.85L176.59 161.19L177.37 160.54L178.15 159.90L178.95 159.26L179.75 158.63L180.57 158.02L181.40 157.41L182.23 156.81L183.08 156.22L183.94 155.63L184.82 155.06L185.70 154.50L186.36 155.25L187.01 156.00L187.67 156.76L188.32 157.52L188.97 158.28L189.61 159.04L190.26 159.80L190.90 160.57L191.54 161.33L192.18 162.10L192.81 162.87L193.45 163.65L194.08 164.42L194.71 165.20L195.33 165.98L195.96 166.76L196.58 167.54L197.20 168.33L197.81 169.11L198.43 169.90L199.04 170.69L199.65 171.49L200.26 172.28L200.87 173.08L201.47 173.88L202.07 174.68L202.67 175.48L203.27 176.28L203.86 177.09L204.45 177.89L205.04 178.70L205.63 179.51L206.21 180.33L206.80 181.14L207.38 181.96L207.96 182.78L208.53 183.60L209.10 184.42L209.67 185.24L210.24 186.07L210.81 186.89L211.37 187.72L211.93 188.55L212.49 189.38L213.05 190.22L213.60 191.05L214.15 191.89L214.70 192.73L215.25 193.57L215.79 194.41L216.33 195.25L216.87 196.10L217.41 196.94L217.94 197.79L218.47 198.64L219.00 199.49L219.53 200.34L220.05 201.20L220.57 202.05L221.09 202.91L221.61 203.77L222.12 204.63L222.63 205.49L223.14 206.35L223.65 207.22L224.15 208.09L224.65 208.95L225.15 209.82L225.65 210.69L226.14 211.57L226.63 212.44L227.12 213.31L227.60 214.19L228.09 215.07L228.57 215.95L229.04 216.83L229.52 217.71L229.99 218.59L230.46 219.48L230.93 220.36L231.39 221.25L231.86 222.14L232.31 223.03L232.77 223.92L233.23 224.81L233.68 225.70L234.13 226.60L234.57 227.50L235.01 228.39L235.45 229.29L235.89 230.19L236.33 231.09L236.76 231.99L237.19 232.90L237.62 233.80L238.04 234.71L238.46 235.62L238.88 236.52L239.30 237.43L239.71 238.34L240.12 239.25L240.53 240.17L240.93 241.08L241.34 242.00L241.74 242.91L242.13 243.83L242.53 244.75L242.92 245.67L243.31 246.59L243.69 247.51L244.07 248.43L244.45 249.35L244.83 250.28L245.20 251.20L245.58 252.13L245.94 253.06L246.31 253.99L246.67 254.92L247.03 255.85L247.39 256.78L247.75 257.71L248.10 258.64L248.45 259.58L248.79 260.51L249.14 261.45L249.48 262.39L249.82 263.32L250.15 264.26L250.49 265.20L250.82 266.14L251.14 267.09L251.47 268.03L251.79 268.97L252.11 269.92L252.43 270.86L252.74 271.81L253.06 272.75L253.37 273.70L253.67 274.65L253.98 275.60L254.28 276.55L254.58 277.50L254.88 278.45L255.17 279.41L255.46 280.36L255.75 281.31L256.04 282.27L256.33 283.22L256.61 284.18L256.89 285.14L257.17 286.10L257.44 287.06L257.71 288.01L257.98 288.97L258.25 289.94L258.52 290.90L258.78 291.86L259.04 292.82L259.30 293.79L259.56 294.75L259.81 295.72L260.06 296.68L260.31 297.65L260.56 298.62L260.81 299.59L261.05 300.55L261.29 301.52L261.53 302.49L261.77 303.46L262.00 304.44L262.23 305.41L262.46 306.38L262.69 307.35L262.92 308.33L263.14 309.30L263.36 310.28L263.58 311.25L263.80 312.23L264.01 313.20L264.22 314.18L264.44 315.16L264.64 316.14L264.85 317.11L265.06 318.09L265.26 319.07L265.46 320.05L265.66 321.04L265.86 322.02L266.05 323.00L266.24 323.98L266.44 324.96L266.62 325.95L266.81 326.93L267.00 327.91L267.18 328.90L267.36 329.88L267.54 330.87L267.72 331.86L267.90 332.84L268.07 333.83L268.24 334.82L268.41 335.80L268.58 336.79L268.75 337.78L268.91 338.77L269.08 339.76L269.24 340.75L269.40 341.74L269.56 342.73L269.71 343.72L269.87 344.71L270.02 345.70L270.17 346.69L270.32 347.69L270.47 348.68L270.62 349.67L270.76 350.66L270.90 351.66L271.04 352.65L271.18 353.65L271.32 354.64L271.46 355.63L271.59 356.63L271.73 357.62L271.86 358.62L271.99 359.61L272.12 360.61L272.25 361.61L272.37 362.60L272.50 363.60L272.62 364.60L272.74 365.59L272.86 366.59L272.98 367.59L273.10 368.58L273.21 369.58L273.33 370.58L273.44 371.58L273.55 372.57L273.66 373.57L273.77 374.57L273.88 375.57L273.99 376.57L274.09 377.57L274.19 378.57L274.30 379.56L274.40 380.56L274.50 381.56L274.60 382.56L274.69 383.56L274.79 384.56L274.88 385.56L274.98 386.56L275.07 387.56L275.16 388.56L275.25 389.56L275.34 390.56L275.43 391.56L275.51 392.56L275.60 393.56L275.68 394.56L275.76 395.56L275.85 396.56L275.93 397.56L276.01 398.56L276.08 399.56L276.16 400.56L276.24 401.55L276.31 402.55L276.39 403.55L276.46 404.55L276.53 405.55L276.61 406.55L276.68 407.55L276.75 408.55L276.81 409.55L276.88 410.55L276.95 411.55L277.01 412.55L277.08 413.54L277.14 414.54L277.21 415.54L277.27 416.54L277.33 417.54L277.39 418.53L277.45 419.53L277.51 420.53L277.57 421.53L277.62 422.52L277.68 423.52L277.74 424.52L277.79 425.51L277.84 426.51L277.90 427.51L277.95 428.50L278.00 429.50L278.05 430.49L278.10 431.49L278.15 432.48L278.20 433.48L278.25 434.47L278.30 435.47L278.34 436.46L278.39 437.45L278.44 438.45L278.48 439.44L278.53 440.43L278.57 441.43L278.61 442.42L278.66 443.41L278.70 444.40" stroke="#00ffff" stroke-width="3.3"/>
<path d="M186.00 444.40L186.02 443.40L186.04 442.40L186.05 441.39L186.07 440.39L186.09 439.39L186.10 438.39L186.12 437.39L186.14 436.39L186.15 435.38L186.16 434.38L186.18 433.38L186.19 432.38L186.20 431.38L186.22 430.38L186.23 429.38L186.24 428.38L186.25 427.38L186.26 426.38L186.27 425.38L186.29 424.38L186.30 423.38L186.31 422.38L186.32 421.38L186.32 420.38L186.33 419.38L186.34 418.38L186.35 417.38L186.36 416.38L186.37 415.38L186.37 414.38L186.38 413.38L186.39 412.38L186.40 411.38L186.40 410.38L186.41 409.39L186.42 408.39L186.42 407.39L186.43 406.39L186.44 405.39L186.44 404.39L186.45 403.39L186.46 402.40L186.46 401.40L186.47 400.40L186.47 399.40L186.48 398.40L186.49 397.40L186.49 396.41L186.50 395.41L186.51 394.41L186.51 393.41L186.52 392.41L186.52 391.41L186.53 390.42L186.54 389.42L186.54 388.42L186.55 387.42L186.56 386.43L186.56 385.43L186.57 384.43L186.58 383.43L186.58 382.43L186.59 381.44L186.60 380.44L186.61 379.44L186.62 378.44L186.62 377.44L186.63 376.45L186.64 375.45L186.65 374.45L186.66 373.45L186.67 372.46L186.68 371.46L186.69 370.46L186.70 369.46L186.71 368.46L186.72 367.47L186.73 366.47L186.74 365.47L186.76 364.47L186.77 363.47L186.78 362.48L186.80 361.48L186.81 360.48L186.82 359.48L186.84 358.48L186.85 357.49L186.87 356.49L186.89 355.49L186.90 354.49L186.92 353.49L186.94 352.49L186.96 351.50L186.98 350.50L186.99 349.50L187.01 348.50L187.04 347.50L187.06 346.50L187.08 345.50L187.10 344.50L187.12 343.51L187.15 342.51L187.17 341.51L187.20 340.51L187.22 339.51L187.25 338.51L187.27 337.51L187.30 336.51L187.33 335.51L187.36 334.51L187.39 333.51L187.42 332.51L187.45 331.51L187.48 330.51L187.52 329.51L187.55 328.51L187.58 327.51L187.62 326.51L187.66 325.51L187.69 324.51L187.73 323.51L187.77 322.51L187.81 321.51L187.85 320.51L187.89 319.50L187.93 318.50L187.98 317.50L188.02 316.50L188.07 315.50L188.11 314.50L188.16 313.49L188.21 312.49L188.26 311.49L188.31 310.49L188.36 309.49L188.41 308.48L188.47 307.48L188.52 306.48L188.58 305.48L188.64 304.47L188.70 303.47L188.76 302.47L188.82 301.47L188.89 300.46L188.96 299.46L189.02 298.46L189.09 297.46L189.17 296.46L189.24 295.45L189.31 294.45L189.39 293.45L189.47 292.45L189.55 291.45L189.64 290.45L189.72 289.45L189.81 288.45L189.90 287.45L189.99 286.45L190.09 285.45L190.19 284.45L190.28 283.45L190.39 282.45L190.49 281.45L190.60 280.45L190.71 279.45L190.82 278.45L190.94 277.46L191.05 276.46L191.17 275.46L191.30 274.47L191.42 273.47L191.55 272.48L191.68 271.48L191.82 270.49L191.96 269.49L192.10 268.50L192.24 267.50L192.39 266.51L192.54 265.52L192.70 264.53L192.85 263.54L193.01 262.54L193.18 261.55L193.35 260.56L193.52 259.58L193.69 258.59L193.87 257.60L194.05 256.61L194.24 255.63L194.43 254.64L194.62 253.66L194.82 252.67L195.02 251.69L195.22 250.71L195.43 249.73L195.64 248.75L195.85 247.77L196.07 246.79L196.29 245.81L196.52 244.84L196.75 243.86L196.99 242.89L197.22 241.91L197.47 240.94L197.71 239.97L197.96 239.00L198.22 238.04L198.48 237.07L198.74 236.11L199.01 235.14L199.28 234.18L199.56 233.22L199.84 232.26L200.12 231.30L200.41 230.35L200.70 229.39L201.00 228.44L201.30 227.49L201.61 226.54L201.92 225.59L202.24 224.64L202.56 223.70L202.88 222.76L203.21 221.82L203.54 220.88L203.88 219.94L204.23 219.00L204.58 218.07L204.93 217.14L205.29 216.21L205.65 215.28L206.02 214.36L206.39 213.44L206.77 212.51L207.15 211.60L207.54 210.68L207.93 209.76L208.33 208.85L208.73 207.94L209.14 207.03L209.55 206.13L209.97 205.23L210.39 204.33L210.82 203.43L211.25 202.53L211.69 201.64L212.13 200.75L212.58 199.86L213.04 198.97L213.50 198.09L213.96 197.21L214.43 196.33L214.91 195.46L215.39 194.58L215.87 193.71L216.36 192.85L216.85 191.98L217.35 191.12L217.86 190.26L218.36 189.40L218.88 188.55L219.39 187.70L219.92 186.85L220.44 186.00L220.98 185.16L221.51 184.32L222.05 183.48L222.60 182.64L223.15 181.81L223.70 180.98L224.26 180.16L224.82 179.33L225.38 178.51L225.96 177.70L226.53 176.88L227.11 176.07L227.69 175.26L228.28 174.46L228.87 173.65L229.46 172.85L230.06 172.06L230.67 171.26L231.27 170.47L231.88 169.69L232.50 168.90L233.12 168.12L233.74 167.34L234.36 166.57L234.99 165.79L235.62 165.03L236.26 164.26L236.90 163.50L237.54 162.74L238.19 161.98L238.84 161.23L239.49 160.48L240.15 159.74L240.81 158.99L241.47 158.25L242.14 157.52L242.81 156.78L243.48 156.05L244.16 155.33L244.84 154.60L245.52 153.88L246.21 153.16L246.90 152.45L247.59 151.74L248.29 151.03L248.99 150.33L249.69 149.62L250.40 148.92L251.10 148.23L251.81 147.54L252.53 146.85L253.25 146.16L253.97 145.48L254.69 144.79L255.42 144.12L256.15 143.44L256.88 142.77L257.61 142.10L258.35 141.44L259.09 140.77L259.84 140.11L260.58 139.46L261.33 138.80L262.08 138.15L262.84 137.50L263.59 136.86L264.35 136.22L265.12 135.58L265.88 134.94L266.65 134.31L267.42 133.68L268.20 133.05L268.97 132.42L269.75 131.80L270.53 131.18L271.31 130.57L272.10 129.95L272.89 129.34L273.68 128.73L274.47 128.13L275.27 127.53L276.07 126.93L276.87 126.33L277.67 125.73L278.48 125.14L279.28 124.55L280.09 123.97L280.91 123.39L281.72 122.80L282.54 122.23L283.36 121.65L284.18 121.08L285.00 120.51L285.83 119.94L286.65 119.38L287.48 118.82L288.31 118.26L289.15 117.70L289.98 117.15L290.82 116.59L291.66 116.05L292.50 115.50L293.35 114.96L294.19 114.42L295.04 113.88L295.89 113.34L296.74 112.81L297.60 112.28L298.45 111.75L299.31 111.22L300.17 110.70L301.03 110.18L301.89 109.66L302.76 109.14L303.62 108.63L304.49 108.12L305.36 107.61L306.23 107.11L307.11 106.60L307.98 106.10L308.86 105.60L309.73 105.11L310.61 104.61L311.49 104.12L312.38 103.63L313.26 103.15L314.15 102.66L315.03 102.18L315.92 101.70L316.81 101.22L317.70 100.75L318.60 100.27L319.49 99.80L320.39 99.34L321.28 98.87L322.18 98.41L323.08 97.95L323.98 97.49L324.88 97.03L325.78 96.57L326.69 96.12L327.59 95.67L328.50 95.22L329.41 94.78L330.32 94.34L331.23 93.89L332.14 93.46L333.05 93.02L333.96 92.58L334.88 92.15L335.79 91.72L336.71 91.29L337.63 90.87L338.55 90.44L339.46 90.02L340.39 89.60L341.31 89.18L342.23 88.77L343.15 88.36L344.07 87.94L345.00 87.53L345.92 87.13L346.85 86.72L347.78 86.32L348.70 85.92L349.63 85.52L350.56 85.12L351.49 84.73L352.42 84.33L353.35 83.94L354.28 83.55L355.21 83.16L356.15 82.78L357.08 82.40L358.01 82.01L358.95 81.63L359.88 81.26L360.82 80.88L361.75 80.51L362.69 80.14L363.62 79.77L364.56 79.40L365.50 79.03L366.43 78.67L367.37 78.30L368.31 77.94L369.25 77.58L370.19 77.23L371.13 76.87L372.06 76.52L373.00 76.17L373.94 75.82L374.88 75.47L375.82 75.12L376.76 74.78L377.70 74.43L378.64 74.09L379.58 73.75L380.52 73.41L381.46 73.08L382.40 72.74L383.34 72.41L384.28 72.08L385.22 71.75L386.16 71.42L387.10 71.10L388.04 70.77L388.98 70.45L389.92 70.13L390.86 69.81L391.80 69.49L392.74 69.17L393.68 68.86L394.62 68.55L395.55 68.23L396.49 67.92L397.43 67.62L398.37 67.31L399.30 67.00L400.24 66.70L401.18 66.40L402.11 66.10L403.05 65.80L403.98 65.50L404.92 65.20L405.85 64.91L406.78 64.61L407.72 64.32L408.65 64.03L409.58 63.74L410.51 63.45L411.44 63.17L412.37 62.88L413.30 62.60" stroke="#ff0000" stroke-width="3.3" stroke-dasharray="8.013 8.013"/>
<path d="M412.2 62.6L694.85 62.6" stroke="#ff0000" stroke-width="3.3" stroke-dasharray="8 8"/>
<path d="M186.00 369.60L185.95 368.59L185.90 367.58L185.86 366.58L185.82 365.57L185.77 364.56L185.73 363.56L185.70 362.55L185.66 361.54L185.62 360.54L185.59 359.53L185.56 358.53L185.53 357.52L185.50 356.52L185.47 355.51L185.44 354.51L185.42 353.50L185.39 352.50L185.37 351.50L185.35 350.49L185.33 349.49L185.31 348.48L185.30 347.48L185.28 346.48L185.27 345.47L185.26 344.47L185.25 343.47L185.24 342.47L185.23 341.46L185.22 340.46L185.22 339.46L185.21 338.46L185.21 337.46L185.21 336.46L185.21 335.45L185.21 334.45L185.21 333.45L185.21 332.45L185.22 331.45L185.22 330.45L185.23 329.45L185.24 328.45L185.24 327.45L185.25 326.45L185.26 325.45L185.28 324.45L185.29 323.45L185.30 322.45L185.32 321.45L185.33 320.45L185.35 319.45L185.37 318.45L185.39 317.45L185.41 316.45L185.43 315.45L185.45 314.45L185.47 313.46L185.49 312.46L185.52 311.46L185.54 310.46L185.57 309.46L185.60 308.46L185.62 307.47L185.65 306.47L185.68 305.47L185.71 304.47L185.74 303.47L185.77 302.47L185.80 301.48L185.84 300.48L185.87 299.48L185.90 298.48L185.94 297.49L185.97 296.49L186.01 295.49L186.05 294.49L186.08 293.50L186.12 292.50L186.16 291.50L186.20 290.50L186.24 289.51L186.28 288.51L186.32 287.51L186.36 286.51L186.40 285.52L186.44 284.52L186.49 283.52L186.53 282.52L186.57 281.53L186.62 280.53L186.66 279.53L186.70 278.54L186.75 277.54L186.79 276.54L186.84 275.54L186.89 274.55L186.93 273.55L186.98 272.55L187.03 271.55L187.07 270.56L187.12 269.56L187.17 268.56L187.21 267.56L187.26 266.57L187.31 265.57L187.36 264.57L187.41 263.57L187.46 262.58L187.51 261.58L187.55 260.58L187.60 259.58L187.65 258.59L187.70 257.59L187.75 256.59L187.80 255.59L187.85 254.59L187.90 253.60L187.95 252.60L188.00 251.60L188.05 250.60L188.09 249.60L188.14 248.60L188.19 247.60L188.24 246.61L188.29 245.61L188.34 244.61L188.39 243.61L188.44 242.61L188.49 241.61L188.53 240.61L188.58 239.61L188.63 238.61L188.68 237.61L188.72 236.61L188.77 235.61L188.82 234.61L188.86 233.61L188.91 232.61L188.96 231.61L189.00 230.61L189.05 229.61L189.09 228.61L189.14 227.61L189.18 226.61L189.22 225.61L189.27 224.61L189.31 223.60L189.36 222.60L189.40 221.60L189.44 220.60L189.49 219.60L189.54 218.60L189.58 217.60L189.63 216.59L189.68 215.59L189.73 214.59L189.78 213.59L189.83 212.59L189.89 211.59L189.94 210.59L190.00 209.58L190.06 208.58L190.13 207.58L190.19 206.58L190.26 205.58L190.33 204.58L190.40 203.58L190.48 202.58L190.55 201.58L190.64 200.58L190.72 199.58L190.81 198.58L190.90 197.59L191.00 196.59L191.10 195.59L191.20 194.59L191.31 193.59L191.42 192.60L191.54 191.60L191.66 190.61L191.78 189.61L191.91 188.62L192.05 187.62L192.19 186.63L192.33 185.63L192.49 184.64L192.64 183.65L192.80 182.66L192.97 181.66L193.15 180.67L193.32 179.68L193.51 178.69L193.70 177.70L193.90 176.71L194.11 175.73L194.32 174.74L194.53 173.75L194.76 172.77L194.99 171.79L195.23 170.80L195.47 169.82L195.72 168.84L195.97 167.87L196.24 166.89L196.51 165.92L196.78 164.94L197.06 163.97L197.35 163.01L197.65 162.04L197.95 161.08L198.26 160.11L198.57 159.15L198.90 158.20L199.23 157.24L199.56 156.29L199.90 155.35L200.25 154.40L200.61 153.46L200.97 152.52L201.34 151.58L201.72 150.65L202.10 149.72L202.49 148.80L202.89 147.87L203.29 146.96L203.70 146.04L204.12 145.13L204.54 144.22L204.97 143.32L205.41 142.42L205.86 141.53L206.31 140.64L206.77 139.76L207.24 138.88L207.71 138.00L208.19 137.13L208.68 136.26L209.17 135.40L209.67 134.55L210.18 133.70L210.70 132.85L211.22 132.01L211.75 131.18L212.29 130.35L212.84 129.52L213.39 128.71L213.95 127.90L214.52 127.09L215.09 126.29L215.67 125.50L216.26 124.71L216.86 123.93L217.46 123.16L218.08 122.39L218.70 121.63L219.32 120.87L219.96 120.13L220.60 119.38L221.25 118.65L221.90 117.93L222.57 117.21L223.24 116.49L223.92 115.79L224.60 115.09L225.30 114.40L226.00 113.72L226.71 113.05L227.43 112.38L228.15 111.73L228.89 111.08L229.63 110.44L230.38 109.80L231.13 109.18L231.90 108.56L232.67 107.95L233.45 107.36L234.23 106.77L235.03 106.18L235.83 105.61L236.64 105.05L237.46 104.49L238.29 103.95L239.12 103.41L239.96 102.88L240.81 102.36L241.66 101.85L242.52 101.34L243.39 100.85L244.26 100.36L245.14 99.87L246.02 99.40L246.91 98.93L247.81 98.47L248.71 98.02L249.61 97.57L250.52 97.13L251.43 96.70L252.35 96.27L253.28 95.85L254.21 95.44L255.14 95.03L256.07 94.63L257.01 94.23L257.95 93.84L258.90 93.46L259.85 93.08L260.80 92.71L261.75 92.34L262.71 91.97L263.67 91.61L264.63 91.26L265.60 90.91L266.56 90.57L267.53 90.23L268.50 89.89L269.47 89.56L270.44 89.23L271.41 88.91L272.39 88.59L273.36 88.27L274.33 87.96L275.31 87.65L276.28 87.34L277.26 87.04L278.23 86.74L279.21 86.44L280.18 86.14L281.15 85.85L282.12 85.56L283.10 85.28L284.07 84.99L285.04 84.71L286.01 84.43L286.98 84.15L287.95 83.88L288.92 83.61L289.89 83.34L290.86 83.07L291.82 82.80L292.79 82.54L293.76 82.28L294.73 82.02L295.70 81.76L296.66 81.51L297.63 81.25L298.60 81.00L299.56 80.75L300.53 80.50L301.50 80.26L302.46 80.01L303.43 79.77L304.40 79.53L305.36 79.29L306.33 79.05L307.30 78.81L308.26 78.58L309.23 78.34L310.19 78.11L311.16 77.88L312.13 77.65L313.09 77.42L314.06 77.19L315.03 76.96L316.00 76.74L316.96 76.51L317.93 76.29L318.90 76.06L319.87 75.84L320.84 75.62L321.80 75.40L322.77 75.18L323.74 74.96L324.71 74.74L325.68 74.52L326.65 74.30L327.62 74.08L328.60 73.86L329.57 73.65L330.54 73.43L331.51 73.22L332.48 73.00L333.46 72.79L334.43 72.57L335.41 72.36L336.38 72.15L337.35 71.94L338.33 71.73L339.30 71.52L340.28 71.31L341.26 71.10L342.23 70.89L343.21 70.68L344.19 70.48L345.16 70.27L346.14 70.07L347.12 69.86L348.10 69.66L349.08 69.46L350.06 69.26L351.04 69.06L352.02 68.86L353.00 68.66L353.98 68.46L354.96 68.27L355.94 68.07L356.92 67.88L357.90 67.69L358.88 67.49L359.87 67.30L360.85 67.11L361.83 66.92L362.82 66.74L363.80 66.55L364.78 66.36L365.77 66.18L366.75 66.00L367.74 65.81L368.72 65.63L369.71 65.45L370.69 65.28L371.68 65.10L372.66 64.92L373.65 64.75L374.64 64.58L375.62 64.40L376.61 64.23L377.60 64.06L378.59 63.90L379.57 63.73L380.56 63.56L381.55 63.40L382.54 63.24L383.53 63.08L384.52 62.92L385.51 62.76L386.50 62.60L387.49 62.45L388.48 62.30L389.47 62.14L390.46 61.99L391.45 61.84L392.44 61.70L393.43 61.55L394.42 61.41L395.41 61.27L396.41 61.12L397.40 60.99L398.39 60.85L399.38 60.71L400.38 60.58L401.37 60.45L402.36 60.32L403.36 60.19L404.35 60.06L405.34 59.94L406.34 59.81L407.33 59.69L408.33 59.57L409.32 59.45L410.31 59.34L411.31 59.22L412.30 59.11L413.30 59.00" stroke="#0000ff" stroke-width="3.3" stroke-dasharray="8.020 8.020"/>
<path d="M416.0 59.0L694.85 59.0" stroke="#0000ff" stroke-width="3.3" stroke-dasharray="8 8"/>
<path d="M186.00 378.50L186.07 377.51L186.13 376.52L186.19 375.53L186.25 374.55L186.31 373.56L186.36 372.57L186.41 371.58L186.47 370.59L186.51 369.59L186.56 368.60L186.61 367.61L186.65 366.62L186.69 365.63L186.73 364.63L186.77 363.64L186.80 362.65L186.84 361.65L186.87 360.66L186.90 359.66L186.93 358.67L186.96 357.67L186.98 356.68L187.01 355.68L187.03 354.69L187.05 353.69L187.07 352.69L187.09 351.70L187.11 350.70L187.12 349.70L187.14 348.70L187.15 347.70L187.16 346.71L187.17 345.71L187.18 344.71L187.19 343.71L187.20 342.71L187.20 341.71L187.21 340.71L187.21 339.71L187.22 338.71L187.22 337.71L187.22 336.71L187.22 335.71L187.22 334.70L187.22 333.70L187.21 332.70L187.21 331.70L187.21 330.70L187.20 329.69L187.19 328.69L187.19 327.69L187.18 326.68L187.17 325.68L187.17 324.68L187.16 323.67L187.15 322.67L187.14 321.67L187.13 320.66L187.12 319.66L187.11 318.65L187.09 317.65L187.08 316.64L187.07 315.64L187.06 314.64L187.05 313.63L187.03 312.62L187.02 311.62L187.01 310.61L186.99 309.61L186.98 308.60L186.97 307.60L186.95 306.59L186.94 305.59L186.93 304.58L186.91 303.57L186.90 302.57L186.89 301.56L186.88 300.56L186.86 299.55L186.85 298.54L186.84 297.54L186.83 296.53L186.82 295.52L186.80 294.52L186.79 293.51L186.78 292.50L186.77 291.50L186.76 290.49L186.75 289.48L186.75 288.48L186.74 287.47L186.73 286.46L186.72 285.46L186.72 284.45L186.71 283.44L186.71 282.44L186.70 281.43L186.70 280.42L186.70 279.42L186.70 278.41L186.70 277.40L186.70 276.40L186.70 275.39L186.70 274.38L186.71 273.38L186.71 272.37L186.72 271.36L186.72 270.36L186.73 269.35L186.74 268.35L186.75 267.34L186.76 266.33L186.77 265.33L186.79 264.32L186.80 263.32L186.82 262.31L186.84 261.31L186.86 260.30L186.88 259.30L186.90 258.29L186.92 257.29L186.95 256.28L186.98 255.28L187.00 254.27L187.03 253.27L187.07 252.26L187.10 251.26L187.13 250.26L187.17 249.25L187.21 248.25L187.25 247.24L187.29 246.24L187.34 245.24L187.38 244.24L187.43 243.23L187.48 242.23L187.53 241.23L187.59 240.23L187.64 239.22L187.70 238.22L187.76 237.22L187.83 236.22L187.89 235.22L187.96 234.22L188.03 233.22L188.10 232.22L188.17 231.22L188.25 230.22L188.33 229.22L188.41 228.22L188.49 227.22L188.58 226.22L188.67 225.22L188.76 224.23L188.85 223.23L188.95 222.23L189.04 221.23L189.15 220.24L189.25 219.24L189.36 218.24L189.47 217.25L189.58 216.25L189.69 215.25L189.81 214.26L189.93 213.26L190.06 212.27L190.18 211.28L190.31 210.28L190.45 209.29L190.58 208.30L190.72 207.30L190.86 206.31L191.01 205.32L191.16 204.33L191.31 203.33L191.46 202.34L191.62 201.35L191.78 200.36L191.94 199.37L192.11 198.38L192.28 197.39L192.46 196.41L192.64 195.42L192.82 194.43L193.00 193.44L193.19 192.46L193.38 191.47L193.58 190.48L193.78 189.50L193.98 188.51L194.19 187.53L194.40 186.54L194.61 185.56L194.83 184.58L195.05 183.59L195.28 182.61L195.51 181.63L195.74 180.65L195.98 179.67L196.22 178.68L196.46 177.71L196.71 176.73L196.97 175.75L197.23 174.77L197.49 173.80L197.76 172.82L198.03 171.85L198.31 170.88L198.59 169.91L198.88 168.94L199.17 167.98L199.47 167.01L199.78 166.05L200.09 165.09L200.41 164.14L200.73 163.19L201.06 162.24L201.40 161.29L201.74 160.35L202.09 159.41L202.44 158.47L202.81 157.54L203.17 156.61L203.55 155.68L203.94 154.76L204.33 153.84L204.72 152.93L205.13 152.02L205.55 151.12L205.97 150.22L206.40 149.32L206.83 148.44L207.28 147.55L207.74 146.67L208.20 145.80L208.67 144.93L209.15 144.07L209.64 143.21L210.14 142.36L210.65 141.52L211.16 140.68L211.69 139.85L212.23 139.02L212.77 138.20L213.32 137.39L213.89 136.58L214.46 135.78L215.04 134.99L215.63 134.20L216.22 133.42L216.83 132.65L217.44 131.88L218.07 131.12L218.70 130.37L219.34 129.62L219.99 128.89L220.64 128.15L221.31 127.43L221.98 126.71L222.66 126.00L223.35 125.30L224.04 124.60L224.74 123.91L225.45 123.23L226.17 122.56L226.90 121.89L227.63 121.23L228.37 120.58L229.12 119.94L229.87 119.30L230.63 118.67L231.40 118.05L232.18 117.44L232.96 116.83L233.75 116.23L234.54 115.64L235.35 115.06L236.15 114.49L236.97 113.92L237.79 113.37L238.62 112.82L239.45 112.27L240.29 111.74L241.13 111.21L241.98 110.69L242.84 110.17L243.70 109.67L244.57 109.17L245.44 108.68L246.31 108.19L247.19 107.71L248.08 107.24L248.97 106.77L249.87 106.31L250.76 105.86L251.67 105.41L252.57 104.97L253.49 104.54L254.40 104.11L255.32 103.69L256.24 103.27L257.17 102.86L258.09 102.45L259.03 102.05L259.96 101.65L260.90 101.26L261.84 100.88L262.78 100.50L263.73 100.12L264.67 99.75L265.62 99.39L266.58 99.03L267.53 98.67L268.49 98.32L269.44 97.97L270.40 97.63L271.36 97.29L272.33 96.96L273.29 96.63L274.25 96.30L275.22 95.98L276.19 95.66L277.15 95.34L278.12 95.03L279.09 94.72L280.06 94.41L281.03 94.11L281.99 93.81L282.96 93.52L283.93 93.22L284.90 92.93L285.88 92.65L286.85 92.36L287.82 92.08L288.79 91.81L289.76 91.53L290.73 91.26L291.71 90.99L292.68 90.72L293.65 90.45L294.63 90.19L295.60 89.93L296.57 89.67L297.55 89.42L298.52 89.16L299.50 88.91L300.47 88.66L301.45 88.42L302.42 88.17L303.40 87.93L304.37 87.68L305.35 87.44L306.32 87.21L307.30 86.97L308.28 86.73L309.25 86.50L310.23 86.27L311.20 86.04L312.18 85.81L313.16 85.58L314.13 85.35L315.11 85.12L316.09 84.90L317.06 84.68L318.04 84.45L319.01 84.23L319.99 84.01L320.97 83.79L321.94 83.57L322.92 83.35L323.89 83.13L324.87 82.91L325.84 82.69L326.82 82.47L327.79 82.26L328.77 82.04L329.74 81.82L330.72 81.61L331.69 81.39L332.67 81.18L333.64 80.96L334.62 80.75L335.59 80.54L336.57 80.32L337.54 80.11L338.52 79.90L339.49 79.69L340.47 79.48L341.44 79.27L342.42 79.06L343.39 78.85L344.37 78.64L345.34 78.44L346.32 78.23L347.29 78.02L348.27 77.82L349.24 77.62L350.22 77.41L351.19 77.21L352.17 77.01L353.14 76.81L354.12 76.61L355.09 76.41L356.07 76.21L357.05 76.01L358.02 75.81L359.00 75.62L359.98 75.42L360.95 75.23L361.93 75.03L362.91 74.84L363.89 74.65L364.87 74.46L365.84 74.27L366.82 74.08L367.80 73.89L368.78 73.70L369.76 73.52L370.74 73.33L371.72 73.15L372.70 72.97L373.68 72.78L374.66 72.60L375.64 72.42L376.63 72.24L377.61 72.07L378.59 71.89L379.57 71.71L380.56 71.54L381.54 71.37L382.53 71.19L383.51 71.02L384.50 70.85L385.48 70.69L386.47 70.52L387.45 70.35L388.44 70.19L389.43 70.02L390.42 69.86L391.40 69.70L392.39 69.54L393.38 69.38L394.37 69.22L395.36 69.07L396.36 68.91L397.35 68.76L398.34 68.61L399.33 68.46L400.33 68.31L401.32 68.16L402.31 68.01L403.31 67.87L404.31 67.73L405.30 67.58L406.30 67.44L407.30 67.30L408.30 67.17L409.30 67.03L410.30 66.90L411.30 66.76L412.30 66.63L413.30 66.50" stroke="#00ff00" stroke-width="3.3" stroke-dasharray="8.019 8.019"/>
<path d="M415.7 66.5L694.85 66.5" stroke="#00ff00" stroke-width="3.3" stroke-dasharray="8 8"/>
</g>
<rect x="97.05" y="10.97" width="577.8000000000001" height="433.33" fill="none" stroke="#000" stroke-width="1.25"/><path d="M97.05 444.3v-7.6M97.05 10.97v7.6M124.57 444.3v-4.7M124.57 10.97v4.7M152.09 444.3v-4.7M152.09 10.97v4.7M179.61 444.3v-4.7M179.61 10.97v4.7M207.13 444.3v-4.7M207.13 10.97v4.7M234.65 444.3v-7.6M234.65 10.97v7.6M262.17 444.3v-4.7M262.17 10.97v4.7M289.69 444.3v-4.7M289.69 10.97v4.7M317.21 444.3v-4.7M317.21 10.97v4.7M344.73 444.3v-4.7M344.73 10.97v4.7M372.25 444.3v-7.6M372.25 10.97v7.6M399.77 444.3v-4.7M399.77 10.97v4.7M427.29 444.3v-4.7M427.29 10.97v4.7M454.81 444.3v-4.7M454.81 10.97v4.7M482.33 444.3v-4.7M482.33 10.97v4.7M509.85 444.3v-7.6M509.85 10.97v7.6M537.37 444.3v-4.7M537.37 10.97v4.7M564.89 444.3v-4.7M564.89 10.97v4.7M592.41 444.3v-4.7M592.41 10.97v4.7M619.93 444.3v-4.7M619.93 10.97v4.7M647.45 444.3v-7.6M647.45 10.97v7.6M674.97 444.3v-4.7M674.97 10.97v4.7M97.05 10.97h5.8M97.05 86.69h4.6M97.05 67.61h4.6M97.05 54.08h4.6M97.05 43.58h4.6M97.05 35.00h4.6M97.05 27.75h4.6M97.05 21.47h4.6M97.05 15.93h4.6M97.05 119.30h5.8M97.05 195.02h4.6M97.05 175.95h4.6M97.05 162.41h4.6M97.05 151.91h4.6M97.05 143.34h4.6M97.05 136.08h4.6M97.05 129.80h4.6M97.05 124.26h4.6M97.05 227.63h5.8M97.05 303.36h4.6M97.05 284.28h4.6M97.05 270.74h4.6M97.05 260.25h4.6M97.05 251.67h4.6M97.05 244.42h4.6M97.05 238.13h4.6M97.05 232.59h4.6M97.05 335.97h5.8M97.05 411.69h4.6M97.05 392.61h4.6M97.05 379.08h4.6M97.05 368.58h4.6M97.05 360.00h4.6M97.05 352.75h4.6M97.05 346.47h4.6M97.05 340.92h4.6M97.05 444.30h5.8M674.85 10.97h-6.6M674.85 34.49h-4.8M674.85 58.02h-4.8M674.85 81.54h-4.8M674.85 105.07h-6.6M674.85 128.59h-4.8M674.85 152.11h-4.8M674.85 175.64h-4.8M674.85 199.16h-6.6M674.85 222.69h-4.8M674.85 246.21h-4.8M674.85 269.74h-4.8M674.85 293.26h-6.6M674.85 316.78h-4.8M674.85 340.31h-4.8M674.85 363.83h-4.8M674.85 387.36h-6.6M674.85 410.88h-4.8M674.85 434.40h-4.8" stroke="#000" stroke-width="1.15" fill="none"/>
<path d="M593.8 80.7H617.9" stroke="#ff8000" stroke-width="3.3"/>
<text x="628.6" y="87.2" font-family="Liberation Serif, serif" font-size="20">p</text>
<path d="M593.8 121.7H617.9" stroke="#a9a400" stroke-width="3.3"/>
<text x="628.6" y="128.2" font-family="Liberation Serif, serif" font-size="20">n</text>
<path d="M593.8 162.7H617.9" stroke="#ff00ff" stroke-width="3.3"/>
<text x="628.6" y="169.2" font-family="Liberation Serif, serif" font-size="20">e</text>
<path d="M593.8 203.7H617.9" stroke="#00ffff" stroke-width="3.3"/>
<text x="629.2" y="210.2" font-family="Liberation Serif, serif" font-size="18.5" font-style="italic">μ</text>
<path d="M595.2 244.7H616.4" stroke="#ff0000" stroke-width="3.3" stroke-dasharray="8.7 7.2"/>
<text x="628.6" y="251.2" font-family="Liberation Serif, serif" font-size="20">u</text>
<path d="M595.2 285.7H616.4" stroke="#0000ff" stroke-width="3.3" stroke-dasharray="8.7 7.2"/>
<text x="628.6" y="292.2" font-family="Liberation Serif, serif" font-size="20">d</text>
<path d="M595.2 326.7H616.4" stroke="#00ff00" stroke-width="3.3" stroke-dasharray="8.7 7.2"/>
<text x="628.6" y="333.2" font-family="Liberation Serif, serif" font-size="20">s</text>
<text x="97.0" y="469.0" font-family="Liberation Sans, sans-serif" stroke="#000" stroke-width="0.3" font-size="20" text-anchor="middle">0.0</text>
<text x="234.6" y="469.0" font-family="Liberation Sans, sans-serif" stroke="#000" stroke-width="0.3" font-size="20" text-anchor="middle">0.5</text>
<text x="372.2" y="469.0" font-family="Liberation Sans, sans-serif" stroke="#000" stroke-width="0.3" font-size="20" text-anchor="middle">1.0</text>
<text x="509.8" y="469.0" font-family="Liberation Sans, sans-serif" stroke="#000" stroke-width="0.3" font-size="20" text-anchor="middle">1.5</text>
<text x="647.4" y="469.0" font-family="Liberation Sans, sans-serif" stroke="#000" stroke-width="0.3" font-size="20" text-anchor="middle">2.0</text>
<text x="90.6" y="18.0" font-family="Liberation Sans, sans-serif" stroke="#000" stroke-width="0.3" font-size="20" text-anchor="end">1</text>
<text x="90.6" y="126.3" font-family="Liberation Sans, sans-serif" stroke="#000" stroke-width="0.3" font-size="20" text-anchor="end">0.100</text>
<text x="90.6" y="234.6" font-family="Liberation Sans, sans-serif" stroke="#000" stroke-width="0.3" font-size="20" text-anchor="end">0.010</text>
<text x="90.6" y="343.0" font-family="Liberation Sans, sans-serif" stroke="#000" stroke-width="0.3" font-size="20" text-anchor="end">0.001</text>
<text x="52.5" y="454" font-family="Liberation Sans, sans-serif" stroke="#000" stroke-width="0.3" font-size="20">10<tspan font-size="14" dy="-10" dx="-1">−4</tspan></text>
<text x="349.6" y="508" font-family="Liberation Serif, serif" font-size="23.3"><tspan font-style="italic">ρ</tspan>(<tspan dx="0.6">fm</tspan><tspan font-size="17.5" dy="-8.6" dx="0.2">−3</tspan><tspan dy="8.6" dx="0">)</tspan></text>
<text transform="translate(21.55,236.5) rotate(-90) scale(0.97,1.07)" font-family="Liberation Serif, serif" font-size="24" font-style="italic">Y<tspan font-size="15.5" dy="3.3" dx="0.3">i</tspan></text>
</svg>
</body></html>
